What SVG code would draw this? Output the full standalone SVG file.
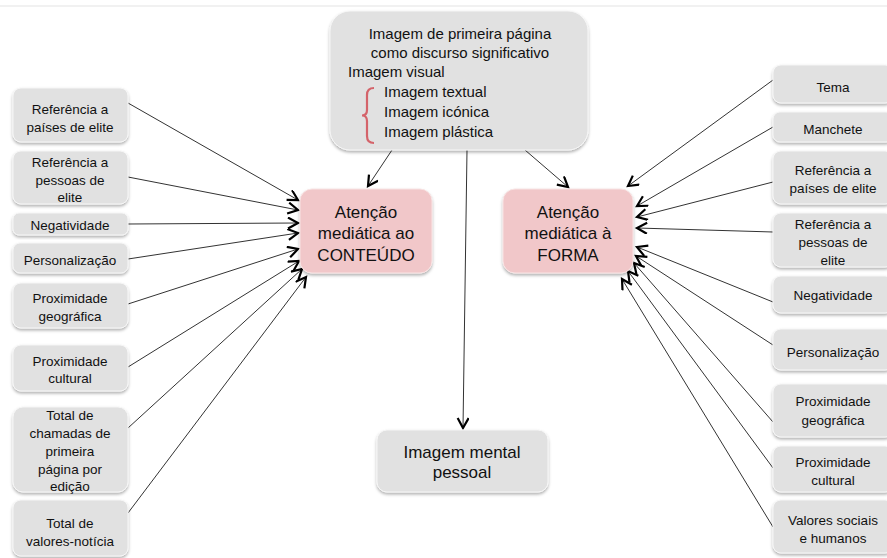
<svg xmlns="http://www.w3.org/2000/svg" width="887" height="558" viewBox="0 0 887 558">
<style>
text{font-family:"Liberation Sans",Arial,sans-serif;fill:#111;dominant-baseline:central}
.s{font-size:13.5px;text-anchor:middle}
.m{font-size:17px;text-anchor:middle}
.t{font-size:15px}
.g{fill:#e1e1e1;stroke:#f6f6f6;stroke-width:1;filter:url(#sh)}
.p{fill:#f1c7c9;stroke:#f8e4e4;stroke-width:1;filter:url(#sh)}
.c{stroke:#333;stroke-width:1;fill:none;marker-end:url(#ah)}
</style>
<defs>
<filter id="sh" x="-10%" y="-10%" width="120%" height="130%">
<feDropShadow dx="0" dy="2" stdDeviation="1.5" flood-color="#000" flood-opacity="0.3"/>
</filter>
<marker id="ah" markerUnits="userSpaceOnUse" markerWidth="14" markerHeight="14" refX="11" refY="6" orient="auto">
<path d="M1,0.5 L11,6 L1,11.5" fill="none" stroke="#000" stroke-width="2.2"/>
</marker>
</defs>
<rect width="887" height="558" fill="#fff"/>
<line x1="0" y1="6" x2="887" y2="6" stroke="#ececec" stroke-width="1.5"/>

<g id="connectors">
<line class="c" x1="128" y1="103" x2="298" y2="200"/>
<line class="c" x1="128" y1="177" x2="298" y2="210"/>
<line class="c" x1="128" y1="224" x2="298" y2="223"/>
<line class="c" x1="128" y1="259" x2="298" y2="233"/>
<line class="c" x1="128" y1="304" x2="298" y2="249"/>
<line class="c" x1="128" y1="367" x2="299" y2="261"/>
<line class="c" x1="128" y1="428" x2="302" y2="269"/>
<line class="c" x1="128" y1="513" x2="306" y2="277"/>
<line class="c" x1="773" y1="80" x2="628" y2="186"/>
<line class="c" x1="773" y1="127" x2="637" y2="206"/>
<line class="c" x1="773" y1="182" x2="637" y2="217"/>
<line class="c" x1="773" y1="232" x2="637" y2="228"/>
<line class="c" x1="773" y1="302" x2="637" y2="247"/>
<line class="c" x1="773" y1="345" x2="636" y2="256"/>
<line class="c" x1="773" y1="422" x2="634" y2="263"/>
<line class="c" x1="773" y1="468" x2="628" y2="271"/>
<line class="c" x1="773" y1="527" x2="622" y2="279"/>
<line class="c" x1="392" y1="150" x2="368" y2="186"/>
<line class="c" x1="525" y1="150" x2="568" y2="187"/>
<line class="c" x1="467" y1="150" x2="463" y2="428"/>
</g>

<g id="imagem-primeira-pagina">
<rect class="g" x="330" y="11" width="258" height="139" rx="20"/>
<text class="t" x="460" y="33" text-anchor="middle">Imagem de primeira página</text>
<text class="t" x="460" y="52" text-anchor="middle">como discurso significativo</text>
<text class="t" x="348" y="71">Imagem visual</text>
<path d="M374,88 Q367,88 367,95 L367,110 Q367,115.5 362,115.5 Q367,115.5 367,121 L367,136 Q367,143 374,143" fill="none" stroke="#d4636a" stroke-width="2.2"/>
<text class="t" x="384" y="91">Imagem textual</text>
<text class="t" x="384" y="111">Imagem icónica</text>
<text class="t" x="384" y="131">Imagem plástica</text>
</g>

<g id="atencao-conteudo">
<rect class="p" x="300" y="189" width="132" height="84" rx="12"/>
<text class="m" x="366" y="212">Atenção</text>
<text class="m" x="366" y="233">mediática ao</text>
<text class="m" x="366" y="255">CONTEÚDO</text>
</g>

<g id="atencao-forma">
<rect class="p" x="503" y="189" width="130" height="84" rx="12"/>
<text class="m" x="568" y="212">Atenção</text>
<text class="m" x="568" y="233">mediática à</text>
<text class="m" x="568" y="255">FORMA</text>
</g>

<g id="imagem-mental">
<rect class="g" x="377" y="430" width="171" height="62" rx="10"/>
<text class="m" x="462" y="452">Imagem mental</text>
<text class="m" x="462" y="472">pessoal</text>
</g>

<g id="l-ref-paises">
<rect class="g" x="13" y="88" width="115" height="54" rx="8"/>
<text class="s" x="70" y="109">Referência a</text>
<text class="s" x="70" y="127">países de elite</text>
</g>
<g id="l-ref-pessoas">
<rect class="g" x="13" y="151" width="115" height="53" rx="8"/>
<text class="s" x="70" y="162">Referência a</text>
<text class="s" x="70" y="180">pessoas de</text>
<text class="s" x="70" y="197">elite</text>
</g>
<g id="l-negatividade">
<rect class="g" x="13" y="213" width="115" height="22" rx="6"/>
<text class="s" x="70" y="225">Negatividade</text>
</g>
<g id="l-personalizacao">
<rect class="g" x="13" y="243" width="115" height="30" rx="7"/>
<text class="s" x="70" y="260">Personalização</text>
</g>
<g id="l-prox-geo">
<rect class="g" x="13" y="283" width="115" height="45" rx="8"/>
<text class="s" x="70" y="298">Proximidade</text>
<text class="s" x="70" y="316">geográfica</text>
</g>
<g id="l-prox-cult">
<rect class="g" x="13" y="345" width="115" height="46" rx="8"/>
<text class="s" x="70" y="361">Proximidade</text>
<text class="s" x="70" y="378">cultural</text>
</g>
<g id="l-total-chamadas">
<rect class="g" x="13" y="407" width="115" height="85" rx="10"/>
<text class="s" x="70" y="415">Total de</text>
<text class="s" x="70" y="433">chamadas de</text>
<text class="s" x="70" y="451">primeira</text>
<text class="s" x="70" y="469">página por</text>
<text class="s" x="70" y="486">edição</text>
</g>
<g id="l-total-valores">
<rect class="g" x="13" y="500" width="115" height="56" rx="8"/>
<text class="s" x="70" y="523">Total de</text>
<text class="s" x="70" y="541">valores-notícia</text>
</g>

<g id="r-tema">
<rect class="g" x="773" y="65" width="120" height="38" rx="8"/>
<text class="s" x="833" y="87">Tema</text>
</g>
<g id="r-manchete">
<rect class="g" x="773" y="112" width="120" height="30" rx="7"/>
<text class="s" x="833" y="129">Manchete</text>
</g>
<g id="r-ref-paises">
<rect class="g" x="773" y="151" width="120" height="53" rx="8"/>
<text class="s" x="833" y="170">Referência a</text>
<text class="s" x="833" y="188">países de elite</text>
</g>
<g id="r-ref-pessoas">
<rect class="g" x="773" y="213" width="120" height="54" rx="8"/>
<text class="s" x="833" y="224">Referência a</text>
<text class="s" x="833" y="242">pessoas de</text>
<text class="s" x="833" y="260">elite</text>
</g>
<g id="r-negatividade">
<rect class="g" x="773" y="276" width="120" height="37" rx="8"/>
<text class="s" x="833" y="295">Negatividade</text>
</g>
<g id="r-personalizacao">
<rect class="g" x="773" y="329" width="120" height="41" rx="8"/>
<text class="s" x="833" y="352">Personalização</text>
</g>
<g id="r-prox-geo">
<rect class="g" x="773" y="384" width="120" height="53" rx="8"/>
<text class="s" x="833" y="401">Proximidade</text>
<text class="s" x="833" y="420">geográfica</text>
</g>
<g id="r-prox-cult">
<rect class="g" x="773" y="446" width="120" height="46" rx="8"/>
<text class="s" x="833" y="462">Proximidade</text>
<text class="s" x="833" y="480">cultural</text>
</g>
<g id="r-valores">
<rect class="g" x="773" y="500" width="120" height="53" rx="8"/>
<text class="s" x="833" y="520">Valores sociais</text>
<text class="s" x="833" y="538">e humanos</text>
</g>
</svg>
